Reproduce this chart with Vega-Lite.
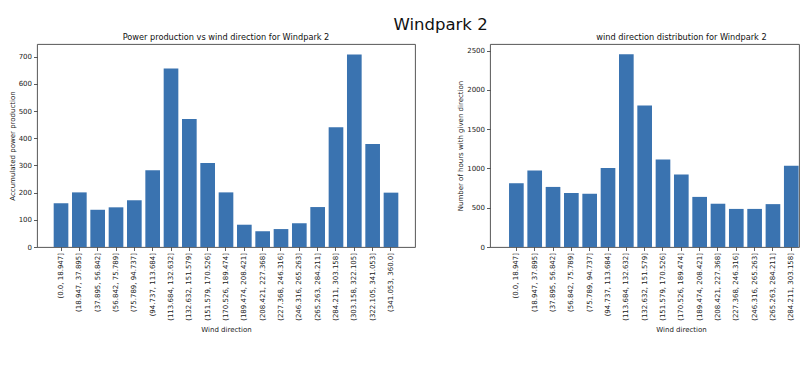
{
  "$schema": "https://vega.github.io/schema/vega-lite/v6.json",
  "padding": {"left": 7, "top": 16, "right": 0, "bottom": 0},
  "background": "white",
  "title": {"text": "Windpark 2", "fontSize": 16.5, "font": "DejaVu Sans", "fontWeight": "normal", "color": "#111", "anchor": "middle", "dx": 37, "dy": 3, "offset": 2},
  "datasets": {
    "power": [
      {"dir": "(0.0, 18.947]", "v": 161},
      {"dir": "(18.947, 37.895]", "v": 201},
      {"dir": "(37.895, 56.842]", "v": 137},
      {"dir": "(56.842, 75.789]", "v": 146},
      {"dir": "(75.789, 94.737]", "v": 172},
      {"dir": "(94.737, 113.684]", "v": 282},
      {"dir": "(113.684, 132.632]", "v": 657},
      {"dir": "(132.632, 151.579]", "v": 471},
      {"dir": "(151.579, 170.526]", "v": 309},
      {"dir": "(170.526, 189.474]", "v": 201},
      {"dir": "(189.474, 208.421]", "v": 82},
      {"dir": "(208.421, 227.368]", "v": 58},
      {"dir": "(227.368, 246.316]", "v": 66},
      {"dir": "(246.316, 265.263]", "v": 87},
      {"dir": "(265.263, 284.211]", "v": 147},
      {"dir": "(284.211, 303.158]", "v": 441},
      {"dir": "(303.158, 322.105]", "v": 708},
      {"dir": "(322.105, 341.053]", "v": 379},
      {"dir": "(341.053, 360.0]", "v": 200}
    ],
    "hours": [
      {"dir": "(0.0, 18.947]", "v": 812},
      {"dir": "(18.947, 37.895]", "v": 974},
      {"dir": "(37.895, 56.842]", "v": 765},
      {"dir": "(56.842, 75.789]", "v": 688},
      {"dir": "(75.789, 94.737]", "v": 678},
      {"dir": "(94.737, 113.684]", "v": 1006},
      {"dir": "(113.684, 132.632]", "v": 2453},
      {"dir": "(132.632, 151.579]", "v": 1801},
      {"dir": "(151.579, 170.526]", "v": 1114},
      {"dir": "(170.526, 189.474]", "v": 922},
      {"dir": "(189.474, 208.421]", "v": 638},
      {"dir": "(208.421, 227.368]", "v": 551},
      {"dir": "(227.368, 246.316]", "v": 485},
      {"dir": "(246.316, 265.263]", "v": 485},
      {"dir": "(265.263, 284.211]", "v": 546},
      {"dir": "(284.211, 303.158]", "v": 1036}
    ]
  },
  "config": {
    "font": "DejaVu Sans",
    "view": {"stroke": "#444", "strokeWidth": 0.9},
    "axis": {
      "domain": false, "grid": false,
      "tickSize": 3.5, "tickColor": "#333", "tickWidth": 0.8,
      "labelFont": "DejaVu Sans", "labelFontSize": 7, "labelColor": "#222", "labelPadding": 2,
      "titleFont": "DejaVu Sans", "titleFontSize": 7, "titleFontWeight": "normal", "titleColor": "#222", "titlePadding": 3
    },
    "title": {"font": "DejaVu Sans", "fontSize": 8.2, "fontWeight": "normal", "color": "#111", "offset": 2},
    "concat": {"spacing": 40}
  },
  "hconcat": [
    {
      "data": {"name": "power"},
      "title": {"text": "Power production vs wind direction for Windpark 2"},
      "width": 378,
      "height": 203,
      "mark": {"type": "bar", "color": "#3a73b0"},
      "encoding": {
        "x": {"field": "dir", "type": "nominal", "sort": null, "title": "Wind direction",
              "scale": {"paddingInner": 0.2, "paddingOuter": 0.91},
              "axis": {"labelAngle": -90, "titlePadding": 5}},
        "y": {"field": "v", "type": "quantitative", "title": "Accumulated power production",
              "scale": {"domain": [0, 747], "nice": false},
              "axis": {"values": [0, 100, 200, 300, 400, 500, 600, 700], "format": "d"}}
      }
    },
    {
      "data": {"name": "hours"},
      "title": {"text": "wind direction distribution for Windpark 2", "dx": 37},
      "width": 309,
      "height": 203,
      "mark": {"type": "bar", "color": "#3a73b0"},
      "encoding": {
        "x": {"field": "dir", "type": "nominal", "sort": null, "title": "Wind direction",
              "scale": {"paddingInner": 0.2, "paddingOuter": 0.53, "align": 0.98},
              "axis": {"labelAngle": -90, "titlePadding": 5, "titleX": 191}},
        "y": {"field": "v", "type": "quantitative", "title": "Number of hours with given direction",
              "scale": {"domain": [0, 2585], "nice": false},
              "axis": {"values": [0, 500, 1000, 1500, 2000, 2500], "format": "d"}}
      }
    }
  ]
}
